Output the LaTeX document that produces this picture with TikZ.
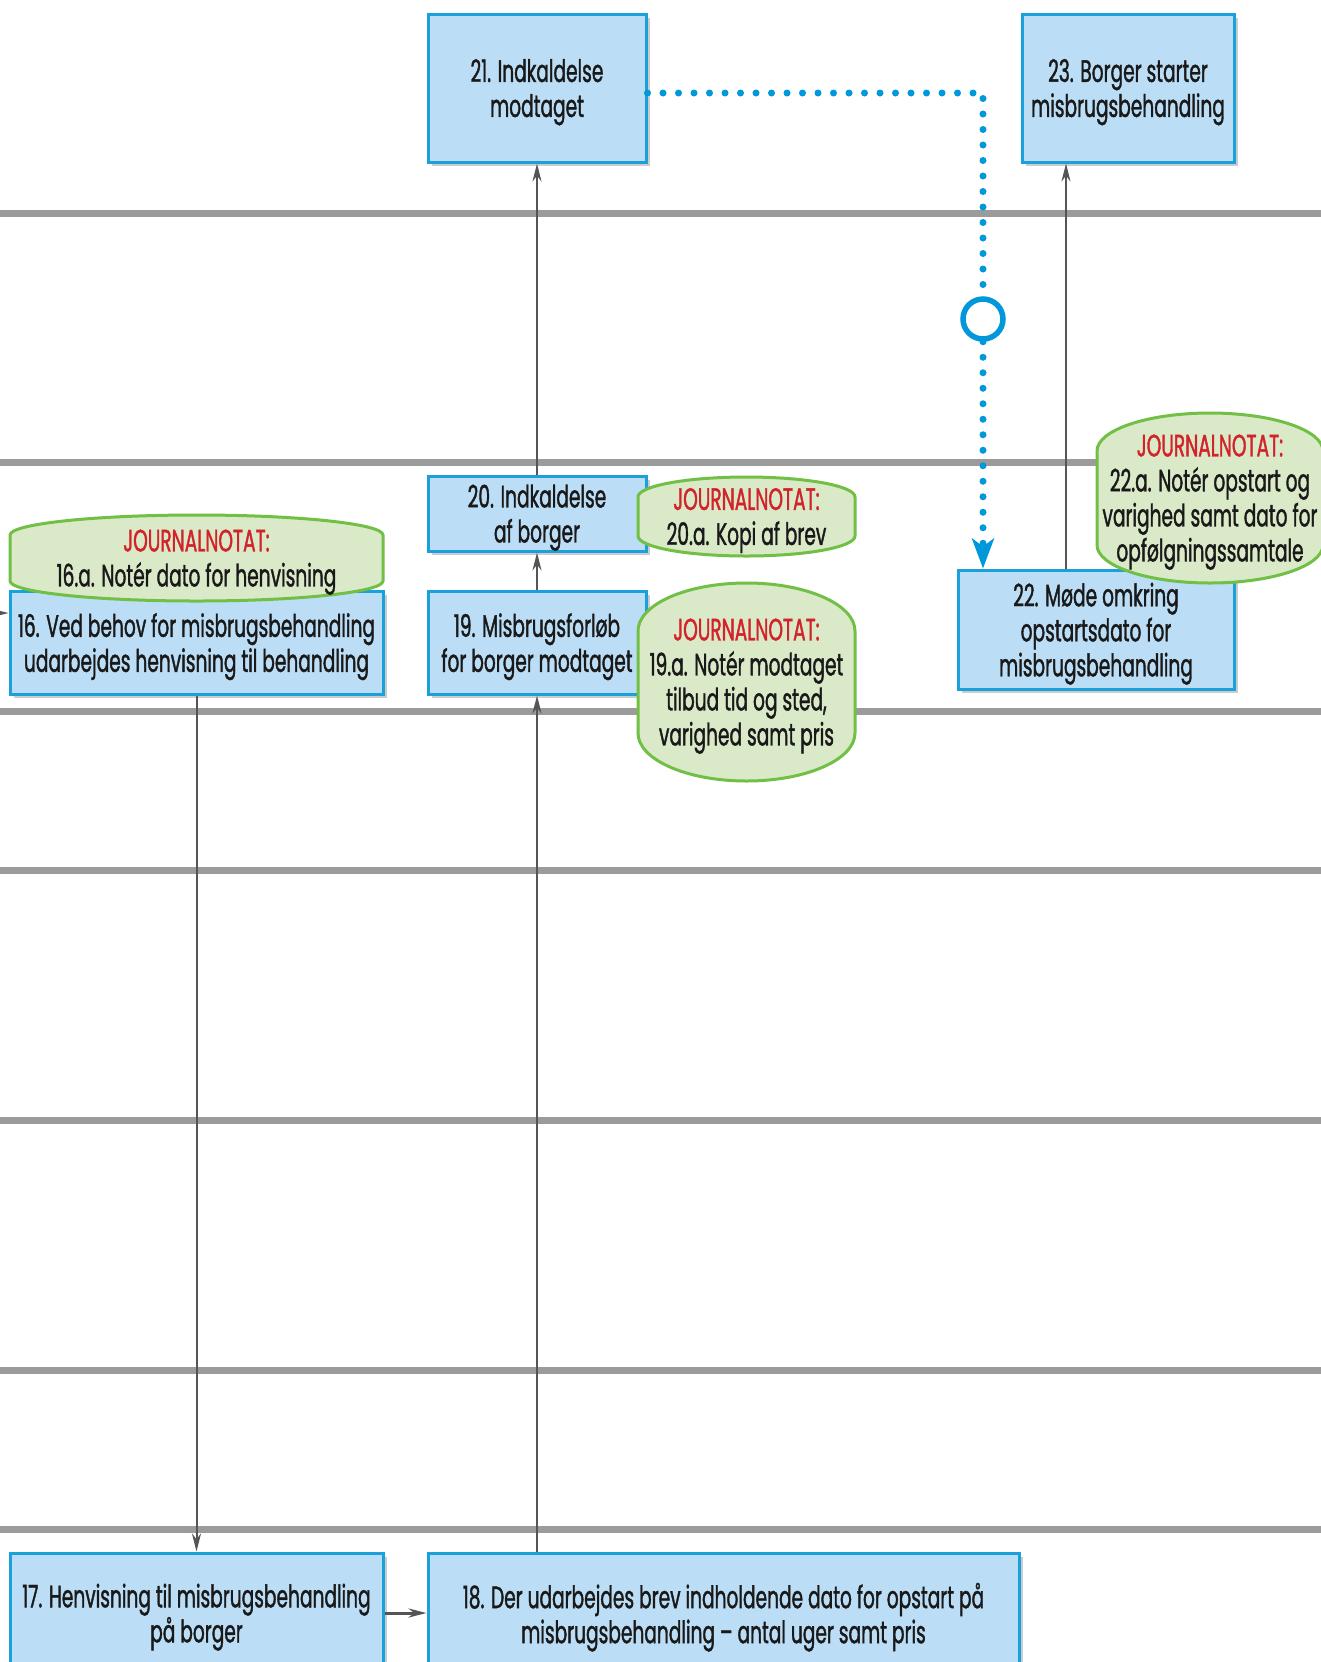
\documentclass[tikz,border=0pt]{standalone}
\usepackage{fontspec}
\setmainfont{Poppins}[FakeStretch=0.6, FakeBold=1.2]
\usetikzlibrary{arrows.meta,shadows}
\definecolor{boxblue}{HTML}{BBDEF6}
\definecolor{rimblue}{HTML}{1AA0DB}
\definecolor{dotblue}{HTML}{0098DA}
\definecolor{notegreen}{HTML}{DAEAC8}
\definecolor{rimgreen}{HTML}{71BF44}
\definecolor{notered}{HTML}{D2232A}
\definecolor{lanegray}{HTML}{9B9B9B}
\definecolor{flowgray}{HTML}{555555}
\tikzset{every node/.style={font=\fontsize{15.5pt}{17.5pt}\selectfont, text=black!90, align=center, inner sep=0pt}}
\tikzset{stepbox/.style={draw=rimblue, fill=boxblue, line width=1.5pt, text depth=-1.5pt,
    drop shadow={shadow xshift=2pt, shadow yshift=-2pt, fill=black!40}},
  note/.style={draw=rimgreen, fill=notegreen, line width=1.5pt},
  notetext/.style={text depth=-1.5pt},
  lane/.style={draw=lanegray, line width=3.5pt},
  flow/.style={draw=flowgray, line width=1pt, -{Stealth[length=9pt, width=4.5pt]}},
  dotflow/.style={draw=dotblue, line width=3.5pt, line cap=round, dash pattern=on 0pt off 7.75pt},
  ring/.style={circle, draw=dotblue, fill=white, line width=2.75pt, minimum size=20pt}}
% note: cx, cy, width, height, vertical radius (px)
\newcommand\journal[7]{%
  \path[note] ({#2-#4/2},{#3-#5/2+#6}) arc[start angle=180, end angle=0, x radius=#4*0.25pt, y radius=#6*0.5pt]
    -- ({#2+#4/2},{#3+#5/2-#6}) arc[start angle=0, end angle=-180, x radius=#4*0.25pt, y radius=#6*0.5pt] -- cycle;
  \node[notetext] (#1) at (#2,#3) {\textcolor{notered}{JOURNALNOTAT:}\\#7};}

\begin{document}
\begin{tikzpicture}[x=0.5pt, y=-0.5pt]
  \useasboundingbox (0,0) rectangle (1321,1662);
  \clip (0,0) rectangle (1321,1662);
  \foreach \y in {213,462,711,870,1120,1370,1529}
    \draw[lane] (0,\y) -- (1321,\y);

  \node[stepbox, minimum width=109pt, minimum height=74pt] (b21) at ( 537.0,   88.0) {21. Indkaldelse\\modtaget};
  \node[stepbox, minimum width=106pt, minimum height=74pt] (b23) at (1128.0,   88.0) {23. Borger starter\\misbrugsbehandling};
  \node[stepbox, minimum width=109pt, minimum height=37.5pt] (b20) at ( 537.0,  513.5) {20. Indkaldelse\\af borger};
  \node[stepbox, minimum width=109pt, minimum height=51.5pt] (b19) at ( 537.0,  642.5) {19. Misbrugsforløb\\for borger modtaget};
  \node[stepbox, minimum width=186.5pt, minimum height=51.5pt] (b16) at ( 196.5,  642.5) {16. Ved behov for misbrugsbehandling\\udarbejdes henvisning til behandling};
  \node[stepbox, minimum width=138pt, minimum height=59.5pt] (b22) at (1096.0,  629.5) {22. Møde omkring\\opstartsdato for\\misbrugsbehandling};
  \node[stepbox, minimum width=186.5pt, minimum height=60pt] (b17) at ( 196.5, 1613.0) {17. Henvisning til misbrugsbehandling\\på borger};
  \node[stepbox, minimum width=295.5pt, minimum height=60pt] (b18) at ( 723.5, 1613.0) {18. Der udarbejdes brev indholdende dato for opstart på\\misbrugsbehandling – antal uger samt pris};
  \coordinate (from15) at (-20,613);

  \draw[flow] (b20) -- (b21);
  \draw[flow] (b19) -- (b20);
  \draw[flow] (b18.north -| b19.south) -- (b19.south);
  \draw[flow] (b16.south) -- (b17.north);
  \draw[flow] ([xshift=-15pt]b22.north) -- ([xshift=-15pt]b22.north |- b23.south);
  \draw[flow] (from15) -- (from15 -| b16.west);
  \draw[flow, line width=1.5pt] (b17.east) -- (b17.east -| b18.west);

  \journal{n16a}{196.5}{558}{373}{86}{20}{16.a. Notér dato for henvisning}
  \journal{n20a}{746.5}{516.5}{217}{79}{20}{20.a. Kopi af brev}
  \journal{n19a}{746.5}{682}{217}{198}{48}{19.a. Notér modtaget\\tilbud tid og sted,\\varighed samt pris}
  \journal{n22a}{1210}{498}{226}{170}{38}{22.a. Notér opstart og\\varighed samt dato for\\opfølgningssamtale}

  \node[ring] (gate) at (983,319) {};
  \draw[dotflow] ([yshift=-2.5pt]b21.east) -| (gate.north);
  \draw[dotflow, -{Stealth[length=15pt, width=11pt, inset=4pt]}] (gate.south) -- (gate.south |- b22.north);
\end{tikzpicture}
\end{document}
